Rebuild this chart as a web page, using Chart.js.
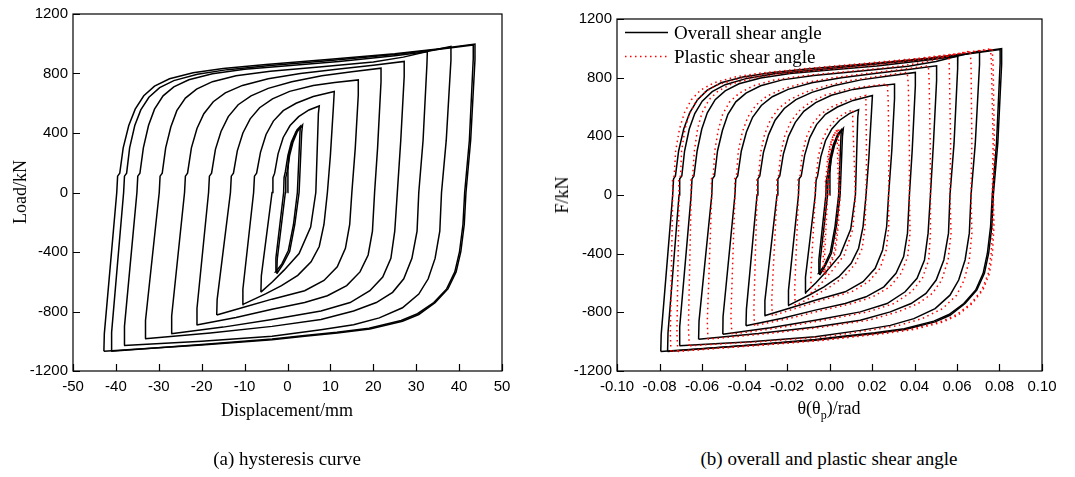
<!DOCTYPE html>
<html>
<head>
<meta charset="utf-8">
<script src="https://cdn.jsdelivr.net/npm/chart.js@4.4.1/dist/chart.umd.min.js"></script>
<style>
  body { margin: 0; background: #fff; width: 1075px; height: 477px; position: relative; overflow: hidden;
         font-family: "Liberation Serif", "Times New Roman", serif; color: #000; }
  .box { position: absolute; }
  .txt { position: absolute; white-space: nowrap; line-height: 1; }
</style>
</head>
<body>
<div class="box" style="left:0;top:0;width:540px;height:430px"><canvas id="chartA"></canvas></div>
<div class="box" style="left:540px;top:0;width:535px;height:430px"><canvas id="chartB"></canvas></div>

<div class="txt" style="font-size:18px;left:20px;top:192px;transform:translate(-50%,-50%) rotate(-90deg)">Load/kN</div>
<div class="txt" style="font-size:18px;left:287px;top:410px;transform:translate(-50%,-50%)">Displacement/mm</div>
<div class="txt" style="font-size:18px;left:562px;top:195px;transform:translate(-50%,-50%) rotate(-90deg)">F/kN</div>
<div class="txt" style="font-size:18px;left:829px;top:410px;transform:translate(-50%,-50%)">&theta;(&theta;<sub style="font-size:12px">p</sub>)/rad</div>

<div class="txt" style="font-size:19px;left:287px;top:458px;transform:translate(-50%,-50%)">(a) hysteresis curve</div>
<div class="txt" style="font-size:19px;left:829px;top:458px;transform:translate(-50%,-50%)">(b) overall and plastic shear angle</div>

<svg style="position:absolute;left:622px;top:24px" width="50" height="40">
  <line x1="3" y1="8.5" x2="46" y2="8.5" stroke="#000" stroke-width="1.3"/>
  <line x1="3" y1="32.5" x2="46" y2="32.5" stroke="#f00" stroke-width="1.5" stroke-dasharray="1.5 3.5"/>
</svg>
<div class="txt" style="font-size:19px;left:674px;top:23px">Overall shear angle</div>
<div class="txt" style="font-size:19px;left:674px;top:47px">Plastic shear angle</div>

<script>
// tick labels
const loadTicks = [-1200, -800, -400, 0, 400, 800, 1200];
const dispTicks = [-50, -40, -30, -20, -10, 0, 10, 20, 30, 40, 50];
const angleTicks = [-0.10, -0.08, -0.06, -0.04, -0.02, 0, 0.02, 0.04, 0.06, 0.08, 0.10];

// (a) load vs displacement, one array per loading level [mm, kN]
const dispLoop0 = [[0,0],[0.1,150],[0.4,260],[1.2,350],[2.2,420],[3.0,445],[2.9,400],[2.3,0],[1.4,-215],[0.2,-390],[-1.3,-480],[-2.8,-535],[-2.7,-440],[-0.9,0],[-0.8,100],[-0.5,140],[0.1,250],[0.9,340],[2.0,410],[3.2,448]];
const dispLoop1 = [[-2.5,-546],[-2.4,-450],[-0.5,0],[-0.4,100],[-0.1,140],[0.5,250],[1.3,340],[2.3,410],[3.5,454],[3.3,400],[2.7,0],[1.7,-215],[0.5,-397],[-1,-480],[-2.5,-546]];
const dispLoop2 = [[-6.2,-670],[-6.1,-560],[-3.6,0],[-3.4,100],[-3.0,130],[-2.2,260],[-1,370],[0.6,450],[2.6,510],[5,555],[7.4,582],[7.2,530],[6.6,0],[5.4,-232],[2.7,-410],[-0.8,-522],[-3.5,-600],[-6.2,-670]];
const dispLoop3 = [[-10.5,-754],[-10.4,-650],[-7.9,0],[-7.7,110],[-7.2,130],[-6.3,270],[-5,390],[-3.3,480],[-1,550],[2,600],[6,645],[10.9,679],[10.7,577],[10.0,250],[9.3,0],[8.5,-215],[7.4,-363],[5.5,-466],[2.4,-557],[-1.4,-626],[-5,-680],[-10.5,-754]];
const dispLoop4 = [[-16.5,-823],[-16.4,-720],[-13.3,0],[-13.1,110],[-12.6,130],[-11.7,280],[-10.4,400],[-8.7,495],[-6.5,570],[-3.5,630],[0.5,680],[6,720],[11,740],[16.5,757],[16.5,656],[15.8,300],[15.0,0],[14.5,-215],[13.5,-375],[11.6,-500],[8.5,-591],[4.0,-660],[-3.6,-717],[-10,-770],[-16.5,-823]];
const dispLoop5 = [[-21.2,-891],[-21.1,-780],[-18.4,0],[-18.2,110],[-17.7,130],[-16.8,290],[-15.5,410],[-13.8,510],[-11.5,590],[-8.5,650],[-4.5,700],[1,745],[8,785],[15,812],[21.8,836],[21.8,745],[21.0,300],[20.3,0],[19.8,-260],[18.8,-420],[16.9,-534],[13.8,-626],[9.3,-694],[4.0,-740],[-3.6,-785],[-12,-840],[-21.2,-891]];
const dispLoop6 = [[-27.1,-949],[-27.0,-830],[-24,0],[-23.8,110],[-23.3,130],[-22.4,300],[-21.1,430],[-19.5,530],[-17.3,610],[-14.5,670],[-10.5,720],[-4.5,765],[3,800],[12,830],[20,855],[27.2,881],[27.2,780],[26.4,350],[25.6,0],[25.0,-260],[24.1,-443],[22.2,-568],[19.2,-660],[14.6,-740],[7.8,-797],[-3.6,-854],[-15,-905],[-27.1,-949]];
const dispLoop7 = [[-33.2,-983],[-33.1,-860],[-29.9,0],[-29.7,110],[-29.2,130],[-28.4,300],[-27.2,440],[-25.8,550],[-23.8,635],[-21.2,695],[-17.5,745],[-12,785],[-4,815],[8,845],[20,878],[27,910],[32.6,948],[32.5,860],[31.6,350],[30.6,0],[30.2,-260],[29.0,-443],[27.1,-580],[24.5,-671],[20.7,-740],[15.4,-797],[7.8,-854],[-3.6,-900],[-18,-945],[-33.2,-983]];
const dispLoop8 = [[-38.1,-1028],[-38.0,-900],[-35.1,0],[-34.9,110],[-34.4,130],[-33.6,300],[-32.4,450],[-31,560],[-29,650],[-26.5,710],[-23,758],[-17.5,798],[-10,828],[0,852],[12,880],[25,920],[32,945],[38.1,982],[38.1,890],[37.0,350],[35.9,0],[35.5,-260],[34.4,-443],[32.8,-580],[30.6,-683],[26.8,-775],[21.4,-843],[15.4,-889],[7.8,-923],[-3.6,-967],[-20,-1000],[-38.1,-1028]];
const dispLoop9 = [[-42.8,-1067],[-42.7,-950],[-39.8,0],[-39.6,110],[-39.1,130],[-38.3,300],[-37.0,450],[-35.5,560],[-33.5,650],[-31.0,715],[-27.5,765],[-22,805],[-15,833],[-5,860],[10,895],[25,932],[35,965],[43.7,998],[43.7,892],[42.7,353],[41.6,0],[41.2,-215],[40.4,-397],[39.3,-534],[37.4,-648],[34.4,-740],[30.6,-820],[26.8,-865],[19.2,-917],[11.6,-945],[4,-967],[-3.6,-990],[-20,-1025],[-42.8,-1067]];
const dispLoop9b = [[-41.1,-1067],[-41.0,-940],[-38.2,0],[-38.0,110],[-37.5,130],[-36.8,300],[-35.6,450],[-34.2,555],[-32.3,640],[-29.8,705],[-26.5,752],[-21,795],[-14,826],[-4,853],[10,888],[25,928],[35,962],[43.3,992],[43.3,900],[42.4,353],[41.3,0],[40.9,-215],[40.1,-397],[39.0,-534],[37.1,-648],[34.1,-740],[30.3,-815],[26.5,-860],[19,-912],[11.5,-940],[4,-962],[-3.6,-985],[-20,-1022],[-41.1,-1067]];

// (b) overall shear angle [rad, kN]
const thetaLoop0 = [[0,0],[0.0002,150],[0.0007,260],[0.0022,350],[0.0041,420],[0.0056,445],[0.0054,400],[0.0043,0],[0.0026,-215],[0.0004,-390],[-0.0024,-480],[-0.0052,-535],[-0.0050,-440],[-0.0017,0],[-0.0015,100],[-0.0009,140],[0.0002,250],[0.0017,340],[0.0037,410],[0.0059,448]];
const thetaLoop1 = [[-0.0046,-546],[-0.0044,-450],[-0.0009,0],[-0.0007,100],[-0.0002,140],[0.0009,250],[0.0024,340],[0.0043,410],[0.0065,454],[0.0061,400],[0.0050,0],[0.0032,-215],[0.0009,-397],[-0.0019,-480],[-0.0046,-546]];
const thetaLoop2 = [[-0.0115,-670],[-0.0113,-560],[-0.0067,0],[-0.0063,100],[-0.0056,130],[-0.0041,260],[-0.0019,370],[0.0011,450],[0.0048,510],[0.0093,555],[0.0137,582],[0.0133,530],[0.0122,0],[0.0100,-232],[0.0050,-410],[-0.0015,-522],[-0.0065,-600],[-0.0115,-670]];
const thetaLoop3 = [[-0.0195,-754],[-0.0193,-650],[-0.0146,0],[-0.0143,110],[-0.0133,130],[-0.0117,270],[-0.0093,390],[-0.0061,480],[-0.0019,550],[0.0037,600],[0.0111,645],[0.0202,679],[0.0198,577],[0.0185,250],[0.0172,0],[0.0158,-215],[0.0137,-363],[0.0102,-466],[0.0044,-557],[-0.0026,-626],[-0.0093,-680],[-0.0195,-754]];
const thetaLoop4 = [[-0.0306,-823],[-0.0304,-720],[-0.0247,0],[-0.0243,110],[-0.0234,130],[-0.0217,280],[-0.0193,400],[-0.0161,495],[-0.0121,570],[-0.0065,630],[0.0009,680],[0.0111,720],[0.0204,740],[0.0306,757],[0.0306,656],[0.0293,300],[0.0278,0],[0.0269,-215],[0.0250,-375],[0.0215,-500],[0.0158,-591],[0.0074,-660],[-0.0067,-717],[-0.0185,-770],[-0.0306,-823]];
const thetaLoop5 = [[-0.0393,-891],[-0.0391,-780],[-0.0341,0],[-0.0337,110],[-0.0328,130],[-0.0311,290],[-0.0287,410],[-0.0256,510],[-0.0213,590],[-0.0158,650],[-0.0083,700],[0.0019,745],[0.0148,785],[0.0278,812],[0.0404,836],[0.0404,745],[0.0389,300],[0.0376,0],[0.0367,-260],[0.0349,-420],[0.0313,-534],[0.0256,-626],[0.0172,-694],[0.0074,-740],[-0.0067,-785],[-0.0222,-840],[-0.0393,-891]];
const thetaLoop6 = [[-0.0502,-949],[-0.0501,-830],[-0.0445,0],[-0.0441,110],[-0.0432,130],[-0.0415,300],[-0.0391,430],[-0.0362,530],[-0.0321,610],[-0.0269,670],[-0.0195,720],[-0.0083,765],[0.0056,800],[0.0222,830],[0.0371,855],[0.0504,881],[0.0504,780],[0.0489,350],[0.0475,0],[0.0464,-260],[0.0447,-443],[0.0412,-568],[0.0356,-660],[0.0271,-740],[0.0145,-797],[-0.0067,-854],[-0.0278,-905],[-0.0502,-949]];
const thetaLoop7 = [[-0.0616,-983],[-0.0614,-860],[-0.0554,0],[-0.0551,110],[-0.0541,130],[-0.0527,300],[-0.0504,440],[-0.0478,550],[-0.0441,635],[-0.0393,695],[-0.0324,745],[-0.0222,785],[-0.0074,815],[0.0148,845],[0.0371,878],[0.0501,910],[0.0604,948],[0.0603,860],[0.0586,350],[0.0567,0],[0.0560,-260],[0.0538,-443],[0.0502,-580],[0.0454,-671],[0.0384,-740],[0.0286,-797],[0.0145,-854],[-0.0067,-900],[-0.0334,-945],[-0.0616,-983]];
const thetaLoop8 = [[-0.0706,-1028],[-0.0705,-900],[-0.0651,0],[-0.0647,110],[-0.0638,130],[-0.0623,300],[-0.0601,450],[-0.0575,560],[-0.0538,650],[-0.0491,710],[-0.0426,758],[-0.0324,798],[-0.0185,828],[0,852],[0.0222,880],[0.0464,920],[0.0593,945],[0.0706,982],[0.0706,890],[0.0686,350],[0.0666,0],[0.0658,-260],[0.0638,-443],[0.0608,-580],[0.0567,-683],[0.0497,-775],[0.0397,-843],[0.0286,-889],[0.0145,-923],[-0.0067,-967],[-0.0371,-1000],[-0.0706,-1028]];
const thetaLoop9 = [[-0.0794,-1067],[-0.0792,-950],[-0.0738,0],[-0.0734,110],[-0.0725,130],[-0.0710,300],[-0.0686,450],[-0.0658,560],[-0.0621,650],[-0.0575,715],[-0.0510,765],[-0.0408,805],[-0.0278,833],[-0.0093,860],[0.0185,895],[0.0464,932],[0.0649,965],[0.0810,998],[0.0810,892],[0.0792,353],[0.0771,0],[0.0764,-215],[0.0749,-397],[0.0729,-534],[0.0693,-648],[0.0638,-740],[0.0567,-820],[0.0497,-865],[0.0356,-917],[0.0215,-945],[0.0074,-967],[-0.0067,-990],[-0.0371,-1025],[-0.0794,-1067]];
const thetaLoop9b = [[-0.0762,-1067],[-0.0760,-940],[-0.0708,0],[-0.0705,110],[-0.0695,130],[-0.0682,300],[-0.0660,450],[-0.0634,555],[-0.0599,640],[-0.0552,705],[-0.0491,752],[-0.0389,795],[-0.0260,826],[-0.0074,853],[0.0185,888],[0.0464,928],[0.0649,962],[0.0803,992],[0.0803,900],[0.0786,353],[0.0766,0],[0.0758,-215],[0.0743,-397],[0.0723,-534],[0.0688,-648],[0.0632,-740],[0.0562,-815],[0.0491,-860],[0.0352,-912],[0.0213,-940],[0.0074,-962],[-0.0067,-985],[-0.0371,-1022],[-0.0762,-1067]];

// (b) plastic shear angle [rad, kN]
const plasticLoop0 = [[0,0],[-0.0005,150],[-0.0005,260],[0.0006,350],[0.0022,420],[0.0036,445],[0.0036,400],[0.0043,0],[0.0036,-215],[0.0022,-390],[-0.0002,-480],[-0.0028,-535],[-0.0030,-440],[-0.0017,0],[-0.0019,100],[-0.0015,140],[-0.0009,250],[0.0002,340],[0.0019,410],[0.0039,448]];
const plasticLoop1 = [[-0.0021,-546],[-0.0024,-450],[-0.0009,0],[-0.0012,100],[-0.0008,140],[-0.0002,250],[0.0009,340],[0.0024,410],[0.0045,454],[0.0043,400],[0.0050,0],[0.0041,-215],[0.0027,-397],[0.0003,-480],[-0.0021,-546]];
const plasticLoop2 = [[-0.0085,-670],[-0.0088,-560],[-0.0067,0],[-0.0067,100],[-0.0062,130],[-0.0053,260],[-0.0035,370],[-0.0009,450],[0.0025,510],[0.0068,555],[0.0111,582],[0.0109,530],[0.0122,0],[0.0110,-232],[0.0069,-410],[0.0009,-522],[-0.0038,-600],[-0.0085,-670]];
const plasticLoop3 = [[-0.0161,-754],[-0.0164,-650],[-0.0146,0],[-0.0148,110],[-0.0139,130],[-0.0129,270],[-0.0110,390],[-0.0083,480],[-0.0043,550],[0.0010,600],[0.0082,645],[0.0171,679],[0.0172,577],[0.0174,250],[0.0172,0],[0.0167,-215],[0.0154,-363],[0.0123,-466],[0.0069,-557],[0.0002,-626],[-0.0062,-680],[-0.0161,-754]];
const plasticLoop4 = [[-0.0269,-823],[-0.0272,-720],[-0.0247,0],[-0.0248,110],[-0.0240,130],[-0.0230,280],[-0.0211,400],[-0.0184,495],[-0.0146,570],[-0.0093,630],[-0.0022,680],[0.0079,720],[0.0171,740],[0.0272,757],[0.0276,656],[0.0280,300],[0.0278,0],[0.0279,-215],[0.0267,-375],[0.0238,-500],[0.0184,-591],[0.0104,-660],[-0.0035,-717],[-0.0151,-770],[-0.0269,-823]];
const plasticLoop5 = [[-0.0353,-891],[-0.0356,-780],[-0.0341,0],[-0.0342,110],[-0.0334,130],[-0.0324,290],[-0.0306,410],[-0.0279,510],[-0.0240,590],[-0.0187,650],[-0.0115,700],[-0.0015,745],[0.0113,785],[0.0242,812],[0.0366,836],[0.0371,745],[0.0376,300],[0.0376,0],[0.0379,-260],[0.0368,-420],[0.0337,-534],[0.0284,-626],[0.0204,-694],[0.0107,-740],[-0.0032,-785],[-0.0185,-840],[-0.0353,-891]];
const plasticLoop6 = [[-0.0459,-949],[-0.0464,-830],[-0.0445,0],[-0.0446,110],[-0.0438,130],[-0.0429,300],[-0.0410,430],[-0.0385,530],[-0.0348,610],[-0.0299,670],[-0.0227,720],[-0.0118,765],[0.0020,800],[0.0185,830],[0.0332,855],[0.0465,881],[0.0469,780],[0.0474,350],[0.0475,0],[0.0475,-260],[0.0467,-443],[0.0437,-568],[0.0386,-660],[0.0304,-740],[0.0180,-797],[-0.0028,-854],[-0.0237,-905],[-0.0459,-949]];
const plasticLoop7 = [[-0.0572,-983],[-0.0575,-860],[-0.0554,0],[-0.0556,110],[-0.0547,130],[-0.0540,300],[-0.0524,440],[-0.0503,550],[-0.0470,635],[-0.0424,695],[-0.0358,745],[-0.0258,785],[-0.0111,815],[0.0110,845],[0.0331,878],[0.0460,910],[0.0562,948],[0.0564,860],[0.0570,350],[0.0567,0],[0.0572,-260],[0.0558,-443],[0.0528,-580],[0.0484,-671],[0.0417,-740],[0.0321,-797],[0.0183,-854],[-0.0026,-900],[-0.0291,-945],[-0.0572,-983]];
const plasticLoop8 = [[-0.0660,-1028],[-0.0664,-900],[-0.0651,0],[-0.0652,110],[-0.0644,130],[-0.0636,300],[-0.0621,450],[-0.0600,560],[-0.0567,650],[-0.0523,710],[-0.0460,758],[-0.0360,798],[-0.0222,828],[-0.0038,852],[0.0183,880],[0.0422,920],[0.0551,945],[0.0662,982],[0.0666,890],[0.0670,350],[0.0666,0],[0.0670,-260],[0.0658,-443],[0.0634,-580],[0.0598,-683],[0.0532,-775],[0.0435,-843],[0.0326,-889],[0.0186,-923],[-0.0023,-967],[-0.0326,-1000],[-0.0660,-1028]];
const plasticLoop9 = [[-0.0746,-1067],[-0.0749,-950],[-0.0738,0],[-0.0739,110],[-0.0731,130],[-0.0724,300],[-0.0706,450],[-0.0683,560],[-0.0650,650],[-0.0607,715],[-0.0544,765],[-0.0444,805],[-0.0316,833],[-0.0132,860],[0.0145,895],[0.0422,932],[0.0606,965],[0.0765,998],[0.0770,892],[0.0776,353],[0.0771,0],[0.0774,-215],[0.0767,-397],[0.0753,-534],[0.0722,-648],[0.0671,-740],[0.0604,-820],[0.0536,-865],[0.0397,-917],[0.0258,-945],[0.0118,-967],[-0.0022,-990],[-0.0325,-1025],[-0.0746,-1067]];
const plasticLoop9b = [[-0.0714,-1067],[-0.0718,-940],[-0.0708,0],[-0.0710,110],[-0.0701,130],[-0.0696,300],[-0.0680,450],[-0.0659,555],[-0.0628,640],[-0.0584,705],[-0.0525,752],[-0.0425,795],[-0.0297,826],[-0.0112,853],[0.0145,888],[0.0422,928],[0.0606,962],[0.0758,992],[0.0762,900],[0.0770,353],[0.0766,0],[0.0768,-215],[0.0761,-397],[0.0747,-534],[0.0717,-648],[0.0665,-740],[0.0599,-815],[0.0530,-860],[0.0393,-912],[0.0255,-940],[0.0117,-962],[-0.0023,-985],[-0.0325,-1022],[-0.0714,-1067]];

const dispLoops = [dispLoop0, dispLoop1, dispLoop2, dispLoop3, dispLoop4, dispLoop5, dispLoop6, dispLoop7, dispLoop8, dispLoop9, dispLoop9b];
const thetaLoops = [thetaLoop0, thetaLoop1, thetaLoop2, thetaLoop3, thetaLoop4, thetaLoop5, thetaLoop6, thetaLoop7, thetaLoop8, thetaLoop9, thetaLoop9b];
const plasticLoops = [plasticLoop0, plasticLoop1, plasticLoop2, plasticLoop3, plasticLoop4, plasticLoop5, plasticLoop6, plasticLoop7, plasticLoop8, plasticLoop9, plasticLoop9b];

// box frame + inward tick marks
const frameTicks = {
    id: 'frameTicks',
    afterDraw(chart) {
        const { ctx, chartArea: a, scales: { x, y } } = chart;
        ctx.save();
        ctx.strokeStyle = '#000';
        ctx.lineWidth = 1.2;
        ctx.strokeRect(a.left, a.top, a.right - a.left, a.bottom - a.top);
        ctx.beginPath();
        x.ticks.forEach(t => {
            const px = Math.round(x.getPixelForValue(t.value)) + 0.5;
            ctx.moveTo(px, a.bottom);
            ctx.lineTo(px, a.bottom - 7);
        });
        y.ticks.forEach(t => {
            const py = Math.round(y.getPixelForValue(t.value)) + 0.5;
            ctx.moveTo(a.left, py);
            ctx.lineTo(a.left + 7, py);
        });
        ctx.stroke();
        ctx.restore();
    }
};

function makeOptions(xTicks, xMin, xMax, xFmt, pad, yWidth) {
    return {
        responsive: true,
        maintainAspectRatio: false,
        animation: false,
        layout: { padding: pad },
        plugins: { legend: { display: false }, tooltip: { enabled: false } },
        elements: { point: { radius: 0 }, line: { tension: 0 } },
        scales: {
            x: {
                type: 'linear', min: xMin, max: xMax,
                grid: { display: false, drawTicks: false },
                border: { display: false },
                afterBuildTicks: s => { s.ticks = xTicks.map(v => ({ value: v })); },
                afterFit: s => { s.height = 59; },
                ticks: { padding: 7, color: '#000', font: { family: 'Liberation Sans', size: 15 },
                         maxRotation: 0, autoSkip: false, callback: xFmt }
            },
            y: {
                type: 'linear', min: -1200, max: 1200,
                grid: { display: false, drawTicks: false },
                border: { display: false },
                afterBuildTicks: s => { s.ticks = loadTicks.map(v => ({ value: v })); },
                afterFit: s => { s.width = yWidth; },
                ticks: { padding: 5, color: '#000', font: { family: 'Liberation Sans', size: 15 },
                         callback: v => String(v) }
            }
        }
    };
}

new Chart(document.getElementById('chartA'), {
    type: 'scatter',
    data: {
        datasets: dispLoops.map(loop => ({
            data: loop, showLine: true, borderColor: '#000', borderWidth: 1.5, pointRadius: 0
        }))
    },
    options: makeOptions(dispTicks, -50, 50, v => String(v), { top: 14, right: 38, left: 0, bottom: 0 }, 73),
    plugins: [frameTicks]
});

// red first so it is drawn on top of the black loops
const redSets = plasticLoops.map(loop => ({
    data: loop, showLine: true, borderColor: '#ff0000', borderWidth: 1.5,
    borderDash: [1.5, 3.5], pointRadius: 0
}));
const blackSets = thetaLoops.map(loop => ({
    data: loop, showLine: true, borderColor: '#000', borderWidth: 1.5, pointRadius: 0
}));

new Chart(document.getElementById('chartB'), {
    type: 'scatter',
    data: { datasets: redSets.concat(blackSets) },
    options: makeOptions(angleTicks, -0.1, 0.1, v => Number(v).toFixed(2), { top: 19, right: 33, left: 0, bottom: 0 }, 77),
    plugins: [frameTicks]
});
</script>
</body>
</html>
